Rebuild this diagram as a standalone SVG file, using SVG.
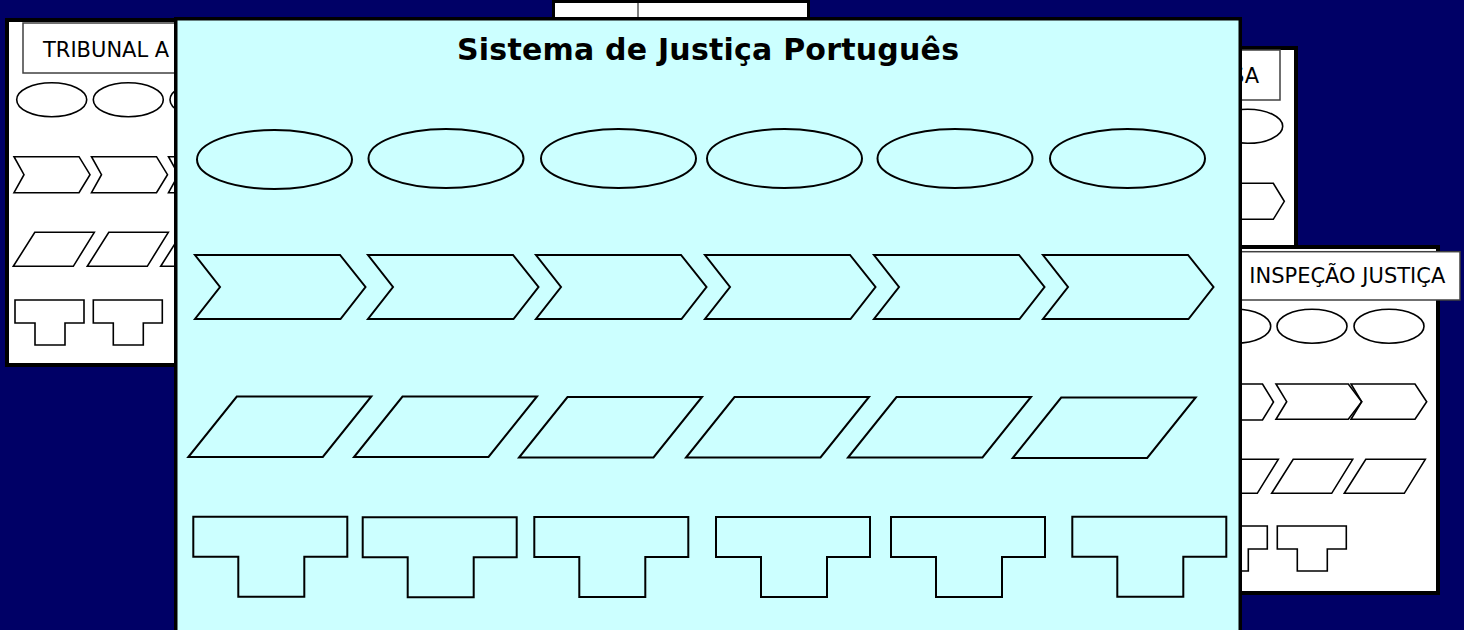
<svg xmlns="http://www.w3.org/2000/svg" width="1464" height="630" viewBox="0 0 1464 630">
<style>
.bg{fill:#000066}
.panel{fill:#ffffff;stroke:#000000;stroke-width:4}
.main{fill:#ccffff;stroke:#000000;stroke-width:3.5}
.lbl{fill:#ffffff;stroke:#404040;stroke-width:1.5}
.s{fill:none;stroke:#000000;stroke-width:2;stroke-linejoin:miter}
.ss{fill:none;stroke:#000000;stroke-width:1.6;stroke-linejoin:miter}
.t{font-family:"DejaVu Sans","Liberation Sans",sans-serif;font-size:21px;fill:#000000}
.title{font-family:"DejaVu Sans","Liberation Sans",sans-serif;font-size:30px;font-weight:bold;fill:#000000}
</style>
<defs>
<ellipse id="ell" cx="0" cy="0" rx="77.5" ry="29.5"/>
<path id="chev" d="M0,0 H145 L170.5,32 L145.5,64 H0 L25,32 Z"/>
<path id="para" d="M48.5,0 H183 L134.5,60.5 H0 Z"/>
<path id="tee" d="M0,0 H154 V40 H111 V80 H45 V40 H0 Z"/>
<ellipse id="sell" cx="0" cy="0" rx="35" ry="17"/>
<path id="schev" d="M0,0 H65 L76,18 L65,36 H0 L10,18 Z"/>
<path id="spara" d="M21.5,0 H81 L60,34 H0 Z"/>
<path id="stee" d="M0,0 H69 V23 H50 V45 H20 V23 H0 Z"/>
</defs>
<rect class="bg" x="0" y="0" width="1464" height="630"/>

<g id="panel-top">
<rect class="panel" x="553.5" y="1.5" width="255" height="120" style="stroke-width:3"/>
<line x1="638" y1="3" x2="638" y2="18" stroke="#808080" stroke-width="2"/>
</g>

<g id="panel-tribunal">
<rect class="panel" x="7" y="20" width="420" height="345"/>
<rect class="lbl" x="23" y="23" width="300" height="50"/>
<text class="t" x="43" y="57">TRIBUNAL A</text>
<use href="#sell" class="ss" x="51.7" y="99.7"/>
<use href="#sell" class="ss" x="128.3" y="99.7"/>
<use href="#sell" class="ss" x="205" y="99.7"/>
<use href="#schev" class="ss" x="14" y="156.7"/>
<use href="#schev" class="ss" x="91.5" y="156.7"/>
<use href="#schev" class="ss" x="168.5" y="156.7"/>
<use href="#spara" class="ss" x="13.3" y="232.3"/>
<use href="#spara" class="ss" x="87.3" y="232.3"/>
<use href="#spara" class="ss" x="160.7" y="232.3"/>
<use href="#stee" class="ss" x="15" y="300"/>
<use href="#stee" class="ss" x="93.3" y="300"/>
</g>

<g id="panel-sa">
<rect class="panel" x="900" y="48" width="396" height="230"/>
<rect class="lbl" x="1000" y="50" width="280" height="50"/>
<text class="t" x="1259" y="83" text-anchor="end">SA</text>
<use href="#sell" class="ss" x="1247.7" y="126.3"/>
<use href="#schev" class="ss" x="1208.3" y="183.3"/>
</g>

<g id="panel-inspecao">
<rect class="panel" x="1000" y="247" width="438" height="346"/>
<rect class="lbl" x="1150" y="251.7" width="310" height="48.3"/>
<text class="t" x="1249.3" y="283.3">INSPEÇÃO JUSTIÇA</text>
<use href="#sell" class="ss" x="1235.7" y="326.3"/>
<use href="#sell" class="ss" x="1312" y="326.3"/>
<use href="#sell" class="ss" x="1389" y="326.3"/>
<use href="#schev" class="ss" x="1197.5" y="384"/>
<path class="ss" d="M1276,384 H1348.3 L1361.7,401.7 L1348.3,419.3 H1276 L1286.7,401.7 Z"/>
<path class="ss" d="M1351,384 H1415 L1426.7,401.7 L1415,419.3 H1351 L1361.7,401.7 Z"/>
<use href="#spara" class="ss" x="1197.3" y="459.3"/>
<use href="#spara" class="ss" x="1271.7" y="459.3"/>
<use href="#spara" class="ss" x="1344.3" y="459.3"/>
<use href="#stee" class="ss" x="1198.3" y="526"/>
<use href="#stee" class="ss" x="1277.3" y="526"/>
</g>

<g id="panel-main">
<rect class="main" x="175.75" y="18.75" width="1064.5" height="700"/>
<text class="title" x="708" y="60" text-anchor="middle" textLength="502">Sistema de Justiça Português</text>
<g id="row-ellipses">
<use href="#ell" class="s" x="274.5" y="159.5"/>
<use href="#ell" class="s" x="446" y="158.5"/>
<use href="#ell" class="s" x="618.5" y="158.5"/>
<use href="#ell" class="s" x="784.5" y="158.5"/>
<use href="#ell" class="s" x="955" y="158.5"/>
<use href="#ell" class="s" x="1127.5" y="158.5"/>
</g>
<g id="row-chevrons">
<use href="#chev" class="s" x="195" y="255"/>
<use href="#chev" class="s" x="368" y="255"/>
<use href="#chev" class="s" x="536" y="255"/>
<use href="#chev" class="s" x="705" y="255"/>
<use href="#chev" class="s" x="874" y="255"/>
<use href="#chev" class="s" x="1043" y="255"/>
</g>
<g id="row-parallelograms">
<use href="#para" class="s" x="188.3" y="396.5"/>
<use href="#para" class="s" x="354" y="396.5"/>
<use href="#para" class="s" x="519" y="397"/>
<use href="#para" class="s" x="686" y="397"/>
<use href="#para" class="s" x="848" y="397"/>
<use href="#para" class="s" x="1012.7" y="397.5"/>
</g>
<g id="row-tees">
<use href="#tee" class="s" x="193.3" y="516.7"/>
<use href="#tee" class="s" x="362.7" y="517.3"/>
<use href="#tee" class="s" x="534.3" y="517"/>
<use href="#tee" class="s" x="716" y="517"/>
<use href="#tee" class="s" x="891" y="517"/>
<use href="#tee" class="s" x="1072.3" y="516.7"/>
</g>
</g>
</svg>
